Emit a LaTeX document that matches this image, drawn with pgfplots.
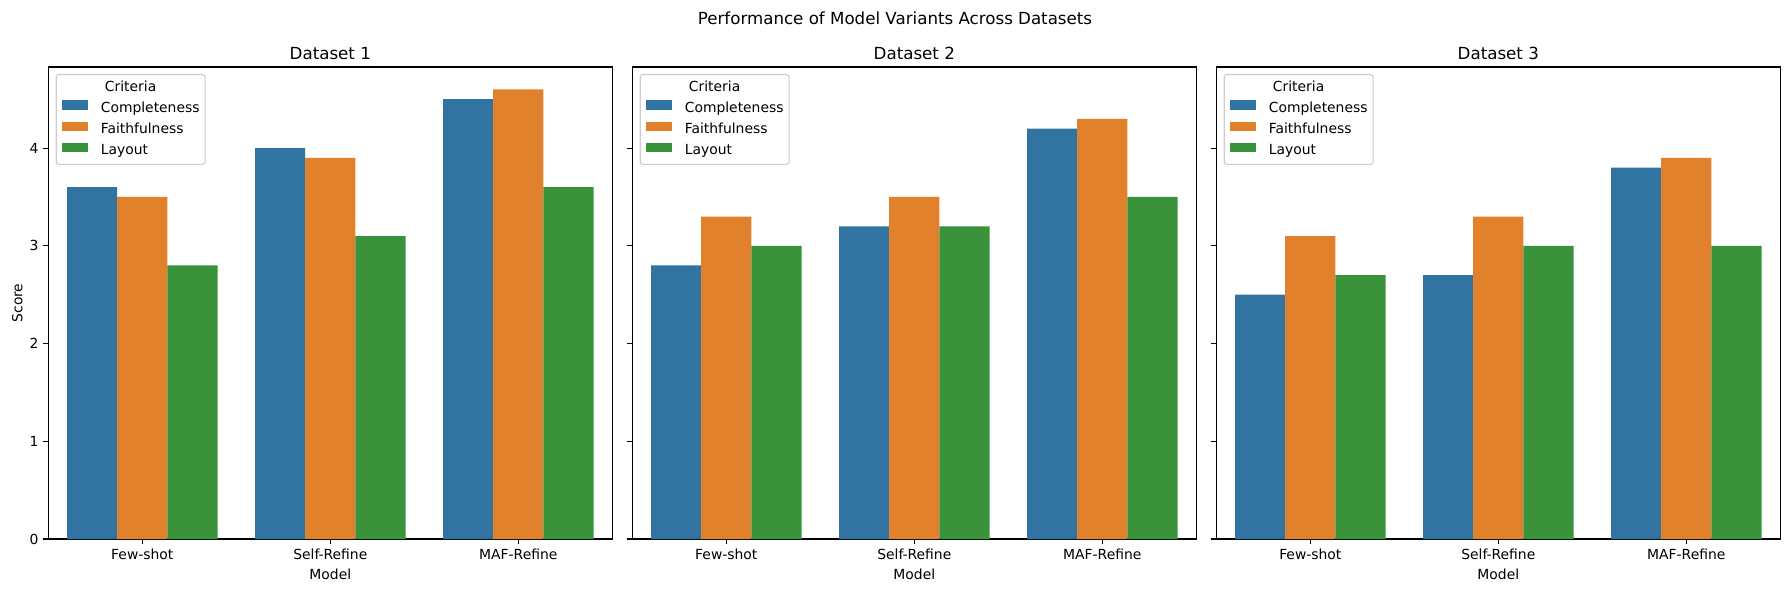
\documentclass[border=0pt]{standalone}
\usepackage{fontspec}
\setmainfont{DejaVu Sans}
\usepackage{pgfplots}
\usepackage{pgfplotstable}
\pgfplotsset{compat=1.18}
\definecolor{cblue}{RGB}{50,116,161}
\definecolor{corange}{RGB}{225,129,44}
\definecolor{cgreen}{RGB}{58,146,58}

\pgfplotstableread{
x comp faith layout
0 3.6 3.5 2.8
1 4.0 3.9 3.1
2 4.5 4.6 3.6
}\dsone
\pgfplotstableread{
x comp faith layout
0 2.8 3.3 3.0
1 3.2 3.5 3.2
2 4.2 4.3 3.5
}\dstwo
\pgfplotstableread{
x comp faith layout
0 2.5 3.1 2.7
1 2.7 3.3 3.0
2 3.8 3.9 3.0
}\dsthree

\pgfplotsset{panel/.style={
  scale only axis, width=406.08pt, height=339.84pt,
  anchor=south west,
  xmin=-0.5, xmax=2.5, ymin=0, ymax=4.83,
  xtick={0,1,2}, xticklabels={Few-shot,Self-Refine,MAF-Refine},
  ytick={0,1,2,3,4},
  tick align=outside, tick pos=left, major tick length=3.5pt,
  every tick/.style={black, line width=0.8pt},
  axis line style={line width=0.8pt},
  ybar, bar width=0.2667,
  /pgf/number format/assume math mode=true,
  tick label style={font=\fontsize{10}{12}\selectfont},
  label style={font=\fontsize{10}{12}\selectfont},
  every axis title shift=0pt,
  title style={font=\fontsize{12}{14}\selectfont, at={(axis description cs:0.5,1)}, anchor=base, yshift=5.3pt},
  xlabel={Model},
  xlabel style={at={(axis description cs:0.5,-0.0853)}, anchor=base},
  ylabel style={at={(axis description cs:-0.0458,0.5)}, anchor=base},
  legend cell align=left,
  legend style={at={(axis description cs:0,1)}, anchor=north west, xshift=5.3pt, yshift=-5pt,
    draw=black!20, line width=0.8pt, rounded corners=2pt, fill=white, fill opacity=0.8, text opacity=1,
    font=\fontsize{10}{12}\selectfont, inner xsep=4pt, inner ysep=4.6pt,
    nodes={inner sep=0pt, text height=7.4pt, text depth=2.2pt},
    row sep=4.4pt,
    /tikz/every odd column/.append style={column sep=8.9pt}},
  legend image code/.code={\fill[##1, fill opacity=1, sharp corners] (0pt,-0.6pt) rectangle (19.2pt,6.1pt);},
}}

\begin{document}
\begin{tikzpicture}
\path[use as bounding box] (0pt,0pt) rectangle (1288.8pt,426.24pt);
\node[anchor=base, font=\fontsize{12}{14}\selectfont] at (644.4pt,408.7pt) {Performance of Model Variants Across Datasets};

\begin{axis}[panel, at={(34.78pt,38.16pt)}, title={Dataset 1}, ylabel={Score}]
\addlegendimage{empty legend}\addlegendentry{\hspace{3pt}Criteria}
\addplot[fill=cblue, draw=none, bar shift=-0.2667] table[x=x,y=comp]{\dsone};
\addlegendentry{Completeness}
\addplot[fill=corange, draw=none, bar shift=0] table[x=x,y=faith]{\dsone};
\addlegendentry{Faithfulness}
\addplot[fill=cgreen, draw=none, bar shift=0.2667] table[x=x,y=layout]{\dsone};
\addlegendentry{Layout}
\end{axis}

\begin{axis}[panel, at={(455.26pt,38.16pt)}, title={Dataset 2}, yticklabels={}]
\addlegendimage{empty legend}\addlegendentry{\hspace{3pt}Criteria}
\addplot[fill=cblue, draw=none, bar shift=-0.2667] table[x=x,y=comp]{\dstwo};
\addlegendentry{Completeness}
\addplot[fill=corange, draw=none, bar shift=0] table[x=x,y=faith]{\dstwo};
\addlegendentry{Faithfulness}
\addplot[fill=cgreen, draw=none, bar shift=0.2667] table[x=x,y=layout]{\dstwo};
\addlegendentry{Layout}
\end{axis}

\begin{axis}[panel, at={(875.74pt,38.16pt)}, title={Dataset 3}, yticklabels={}]
\addlegendimage{empty legend}\addlegendentry{\hspace{3pt}Criteria}
\addplot[fill=cblue, draw=none, bar shift=-0.2667] table[x=x,y=comp]{\dsthree};
\addlegendentry{Completeness}
\addplot[fill=corange, draw=none, bar shift=0] table[x=x,y=faith]{\dsthree};
\addlegendentry{Faithfulness}
\addplot[fill=cgreen, draw=none, bar shift=0.2667] table[x=x,y=layout]{\dsthree};
\addlegendentry{Layout}
\end{axis}
\end{tikzpicture}
\end{document}
